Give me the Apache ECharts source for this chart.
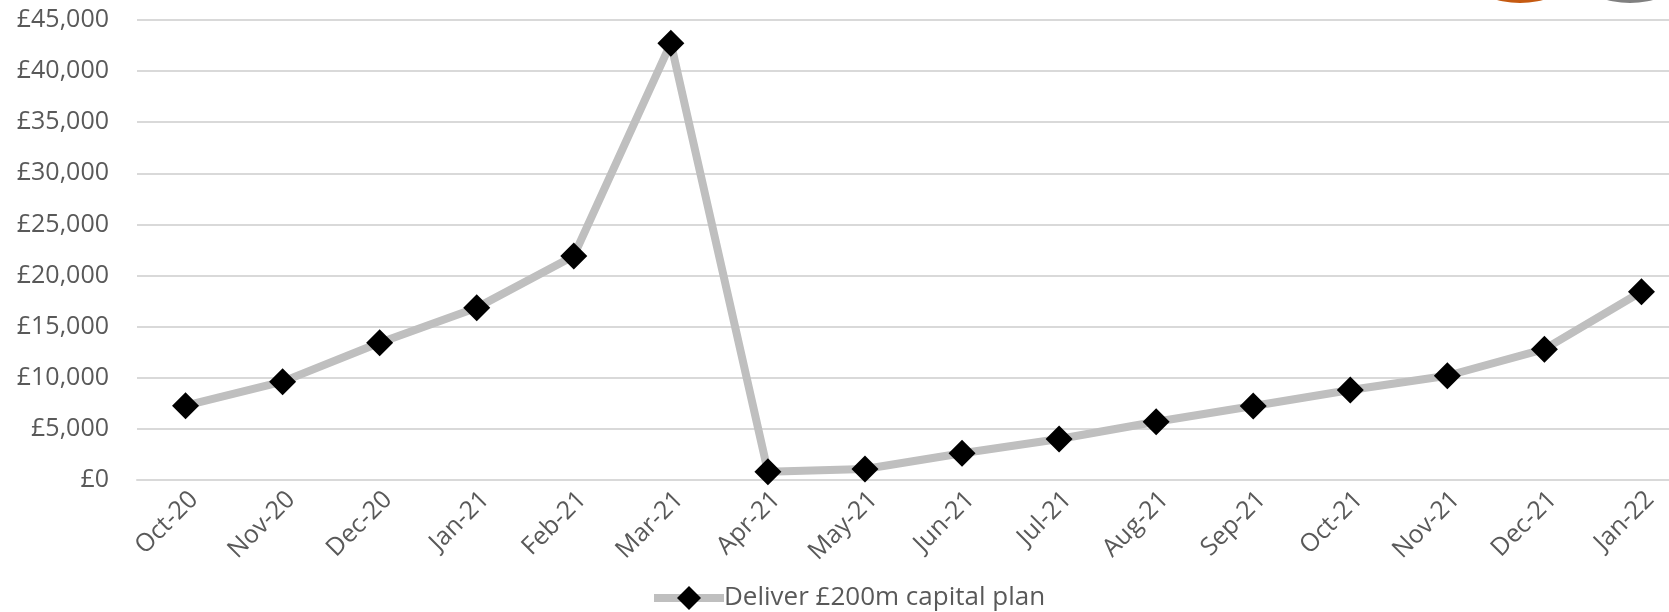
<!DOCTYPE html>
<html>
<head>
<meta charset="utf-8">
<script src="https://cdn.jsdelivr.net/npm/echarts@6/dist/echarts.min.js"></script>
<style>
  html, body { margin: 0; padding: 0; background: #fff; }
  #main-chart { width: 1669px; height: 612px; }
</style>
</head>
<body>
<div id="main-chart"></div>
<script>
const months = [
  "Oct-20", "Nov-20", "Dec-20", "Jan-21", "Feb-21", "Mar-21", "Apr-21", "May-21",
  "Jun-21", "Jul-21", "Aug-21", "Sep-21", "Oct-21", "Nov-21", "Dec-21", "Jan-22"
];

const capitalPlan = [
  7270, 9620, 13430, 16860, 21920, 42730, 810, 1080,
  2610, 4010, 5700, 7240, 8800, 10200, 12800, 18420
];

const seriesName = "Deliver £200m capital plan";

const textColor = "#595959";
const gridColor = "#D9D9D9";
const fontFamily = "'Open Sans', sans-serif";

const chart = echarts.init(document.getElementById("main-chart"));

chart.setOption({
  animation: false,
  grid: { left: 137, right: -21, top: 20, bottom: 132, outerBoundsMode: "none", containLabel: false },
  xAxis: {
    type: "category",
    data: months,
    boundaryGap: true,
    axisLine: { lineStyle: { color: gridColor, width: 2 } },
    axisTick: { length: 9, lineStyle: { color: gridColor, width: 2 } },
    axisLabel: {
      rotate: 45,
      margin: 24,
      padding: [0, -12, 0, 0],
      color: textColor,
      fontSize: 25,
      fontFamily: fontFamily,
      interval: 0
    }
  },
  yAxis: {
    type: "value",
    min: 0,
    max: 45000,
    interval: 5000,
    axisLine: { show: false },
    axisTick: { show: false },
    splitLine: { lineStyle: { color: gridColor, width: 2 } },
    axisLabel: {
      margin: 28,
      color: textColor,
      fontSize: 25,
      fontFamily: fontFamily,
      formatter: (v) => "£" + v.toLocaleString("en-GB")
    }
  },
  legend: {
    left: 645,
    top: 580,
    itemWidth: 70,
    itemHeight: 30,
    itemGap: 10,
    lineStyle: { width: 8, color: "#BFBFBF" },
    textStyle: { color: textColor, fontSize: 26, fontFamily: fontFamily, padding: [0, 0, 0, -5] },
    data: [seriesName]
  },
  graphic: [
    { type: "circle", shape: { cx: 1520, cy: -87, r: 90 }, style: { fill: "#C55A11" } },
    { type: "circle", shape: { cx: 1630, cy: -87, r: 90 }, style: { fill: "#808080" } }
  ],
  series: [
    {
      name: seriesName,
      type: "line",
      data: capitalPlan,
      symbol: "diamond",
      symbolSize: 27,
      lineStyle: { color: "#BFBFBF", width: 8 },
      itemStyle: { color: "#000000" },
      z: 3
    }
  ]
});
</script>
</body>
</html>
